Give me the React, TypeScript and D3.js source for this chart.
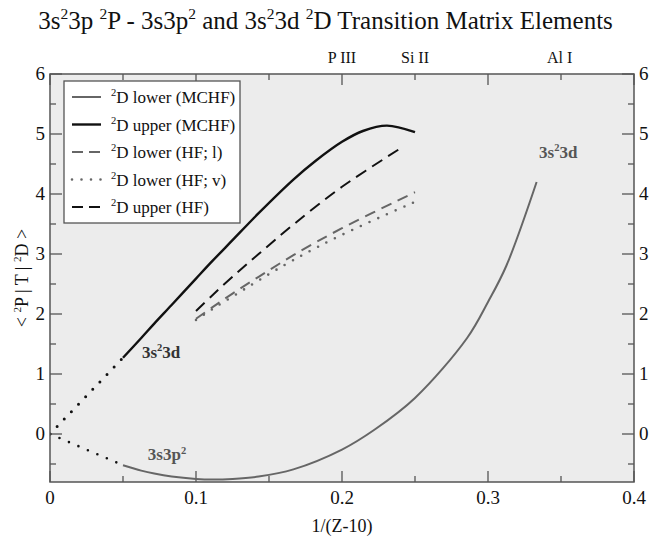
import React from 'react';
import * as d3 from 'd3';

// 1/(Z-10) values and matrix elements
const upperMchfX = [0.05, 0.0625, 0.0714, 0.0833, 0.1, 0.1111, 0.125, 0.1429, 0.1667, 0.1818, 0.2, 0.2143, 0.2308, 0.25];
const upperMchfY = [1.27, 1.6, 1.84, 2.15, 2.59, 2.88, 3.23, 3.68, 4.24, 4.55, 4.87, 5.05, 5.14, 5.03];

const lowerMchfX = [0.05, 0.0625, 0.0714, 0.0833, 0.1, 0.1111, 0.125, 0.1429, 0.1667, 0.2, 0.2222, 0.25, 0.2857, 0.3, 0.3125, 0.3333];
const lowerMchfY = [-0.52, -0.61, -0.66, -0.71, -0.75, -0.76, -0.75, -0.71, -0.59, -0.26, 0.07, 0.6, 1.6, 2.2, 2.8, 4.2];

// dotted extrapolations to the origin
const upperExtX = [0, 0.05];
const upperExtY = [0, 1.27];
const lowerExtX = [0, 0.05];
const lowerExtY = [0, -0.52];

const hfX = [0.1, 0.1111, 0.125, 0.1429, 0.1667, 0.2, 0.25];
const lowerHfLenY = [1.92, 2.11, 2.34, 2.62, 2.98, 3.43, 4.03];
const lowerHfVelY = [1.9, 2.08, 2.29, 2.56, 2.9, 3.32, 3.87];
const upperHfX = [0.1, 0.1111, 0.125, 0.1429, 0.1667, 0.2, 0.24];
const upperHfY = [2.05, 2.31, 2.62, 3.0, 3.49, 4.12, 4.76];

const xMajor = [0, 0.1, 0.2, 0.3, 0.4];
const xMinor = [0.05, 0.15, 0.25, 0.35];
const yMajor = [0, 1, 2, 3, 4, 5, 6];
const yMinor = [-0.5, 0.5, 1.5, 2.5, 3.5, 4.5, 5.5];

const ionLabels = ['P III', 'Si II', 'Al I'];
const ionX = [0.2, 0.25, 0.349];

const legendLabels = ['D lower (MCHF)', 'D upper (MCHF)', 'D lower (HF; l)', 'D lower (HF; v)', 'D upper (HF)'];

const W = 651;
const H = 541;
const m = { left: 50, right: 17, top: 74, bottom: 59 };
const FONT = '"Liberation Serif", "Times New Roman", serif';

const GRAY = '#666';
const BLACK = '#111';

const x = d3.scaleLinear().domain([0, 0.4]).range([m.left, W - m.right]);
const y = d3.scaleLinear().domain([-0.8, 6]).range([H - m.bottom, m.top]);

const zip = (xs: number[], ys: number[]) => xs.map((v, i) => [v, ys[i]] as [number, number]);
const smooth = d3.line<[number, number]>().x(d => x(d[0])).y(d => y(d[1])).curve(d3.curveCatmullRom.alpha(0.5));
const straight = d3.line<[number, number]>().x(d => x(d[0])).y(d => y(d[1]));

// text with "^2" superscripts
function Sup({ text, size }: { text: string; size: number }) {
  const parts = text.split(/(\^2)/);
  const out: React.ReactNode[] = [];
  let raised = false;
  parts.forEach((p, i) => {
    if (p === '^2') {
      out.push(<tspan key={i} fontSize={size * 0.62} dy={-size * 0.4}>2</tspan>);
      raised = true;
    } else if (p) {
      out.push(<tspan key={i} dy={raised ? size * 0.4 : 0}>{p}</tspan>);
      raised = false;
    }
  });
  return <>{out}</>;
}

const series = [
  { d: smooth(zip(upperMchfX, upperMchfY)), color: BLACK, width: 2.4, dash: undefined, cap: 'butt' },
  { d: smooth(zip(lowerMchfX, lowerMchfY)), color: GRAY, width: 2, dash: undefined, cap: 'butt' },
  { d: straight(zip(upperExtX, upperExtY)), color: BLACK, width: 3, dash: '0,10.3', cap: 'round' },
  { d: straight(zip(lowerExtX, lowerExtY)), color: BLACK, width: 2.6, dash: '0,10.3', cap: 'round' },
  { d: smooth(zip(hfX, lowerHfLenY)), color: GRAY, width: 2, dash: '11,7', cap: 'butt' },
  { d: smooth(zip(hfX, lowerHfVelY)), color: GRAY, width: 2.6, dash: '0,9.5', cap: 'round' },
  { d: smooth(zip(upperHfX, upperHfY)), color: BLACK, width: 2, dash: '12,7', cap: 'butt' },
];

const legendStyles = [
  { color: GRAY, width: 2, dash: undefined, cap: 'butt' },
  { color: BLACK, width: 2.4, dash: undefined, cap: 'butt' },
  { color: GRAY, width: 2, dash: '11,6', cap: 'butt' },
  { color: GRAY, width: 2.6, dash: '0,9.5', cap: 'round' },
  { color: BLACK, width: 2, dash: '11,6', cap: 'butt' },
];

export default function App() {
  const x0 = x.range()[0], x1 = x.range()[1];
  const y0 = y.range()[0], y1 = y.range()[1];
  return (
    <div style={{ position: 'absolute', left: 0, top: 0 }}>
      <svg width={W} height={H} style={{ display: 'block', background: '#fff' }} fontFamily={FONT}>
        <defs>
          <clipPath id="plot">
            <rect x={x0} y={y1} width={x1 - x0} height={y0 - y1} />
          </clipPath>
        </defs>
        <text x={W / 2} y={29} textAnchor="middle" fontSize={25} fill="#111">
          <Sup text="3s^23p ^2P - 3s3p^2 and 3s^23d ^2D Transition Matrix Elements" size={25} />
        </text>

        <rect x={x0} y={y1} width={x1 - x0} height={y0 - y1} fill="#ececec" />

        {/* ticks, all pointing inward */}
        <g stroke="#555" strokeWidth={1.3}>
          {xMajor.map(t => (
            <g key={'xM' + t}>
              <line x1={x(t)} x2={x(t)} y1={y0} y2={y0 - 11} />
              <line x1={x(t)} x2={x(t)} y1={y1} y2={y1 + 11} />
            </g>
          ))}
          {xMinor.map(t => (
            <g key={'xm' + t}>
              <line x1={x(t)} x2={x(t)} y1={y0} y2={y0 - 6} />
              <line x1={x(t)} x2={x(t)} y1={y1} y2={y1 + 6} />
            </g>
          ))}
          {yMajor.map(t => (
            <g key={'yM' + t}>
              <line x1={x0} x2={x0 + 12} y1={y(t)} y2={y(t)} />
              <line x1={x1} x2={x1 - 12} y1={y(t)} y2={y(t)} />
            </g>
          ))}
          {yMinor.map(t => (
            <g key={'ym' + t}>
              <line x1={x0} x2={x0 + 6} y1={y(t)} y2={y(t)} />
              <line x1={x1} x2={x1 - 6} y1={y(t)} y2={y(t)} />
            </g>
          ))}
        </g>

        <g clipPath="url(#plot)" fill="none">
          {series.map((s, i) => (
            <path key={i} d={s.d || ''} stroke={s.color} strokeWidth={s.width}
              strokeDasharray={s.dash} strokeLinecap={s.cap as any} />
          ))}
        </g>

        <rect x={x0} y={y1} width={x1 - x0} height={y0 - y1} fill="none" stroke="#555" strokeWidth={1.5} />

        {/* tick labels */}
        <g fontSize={19} fill="#111">
          {xMajor.map(t => (
            <text key={t} x={x(t)} y={y0 + 22} textAnchor="middle">{t === 0 ? '0' : d3.format('.1f')(t)}</text>
          ))}
          {yMajor.map(t => (
            <text key={'l' + t} x={x0 - 5} y={y(t) + 6} textAnchor="end">{t}</text>
          ))}
          {yMajor.map(t => (
            <text key={'r' + t} x={x1 + 5} y={y(t) + 6} textAnchor="start">{t}</text>
          ))}
        </g>

        {/* ion labels on the top axis */}
        <g fontSize={16} fill="#111">
          {ionLabels.map((l, i) => (
            <text key={l} x={x(ionX[i])} y={y1 - 11} textAnchor="middle">{l}</text>
          ))}
        </g>

        <text x={(x0 + x1) / 2} y={532} textAnchor="middle" fontSize={18} fill="#111">1/(Z-10)</text>
        <text transform={`translate(28,${(y0 + y1) / 2}) rotate(-90)`} textAnchor="middle" fontSize={18} fill="#111">
          <Sup text={'< ^2P | T | ^2D >'} size={18} />
        </text>

        {/* curve annotations */}
        <text x={x(0.063)} y={y(1.27)} fontSize={17} fontWeight="bold" fill="#333">
          <Sup text="3s^23d" size={17} />
        </text>
        <text x={x(0.335)} y={y(4.6)} fontSize={17} fontWeight="bold" fill="#555">
          <Sup text="3s^23d" size={17} />
        </text>
        <text x={x(0.067)} y={y(-0.44)} fontSize={17} fontWeight="bold" fill="#555">
          <Sup text="3s3p^2" size={17} />
        </text>

        {/* legend */}
        <g>
          <rect x={64} y={81} width={176} height={142} fill="#fff" stroke="#555" strokeWidth={1.3} />
          {legendLabels.map((l, i) => {
            const ly = 97 + i * 27.5;
            const s = legendStyles[i];
            return (
              <g key={l}>
                <line x1={72} x2={101} y1={ly} y2={ly} stroke={s.color} strokeWidth={s.width}
                  strokeDasharray={s.dash} strokeLinecap={s.cap as any} />
                <text x={111} y={ly + 6} fontSize={17} fill="#111">
                  <Sup text={'^2' + l} size={17} />
                </text>
              </g>
            );
          })}
        </g>
      </svg>
    </div>
  );
}
